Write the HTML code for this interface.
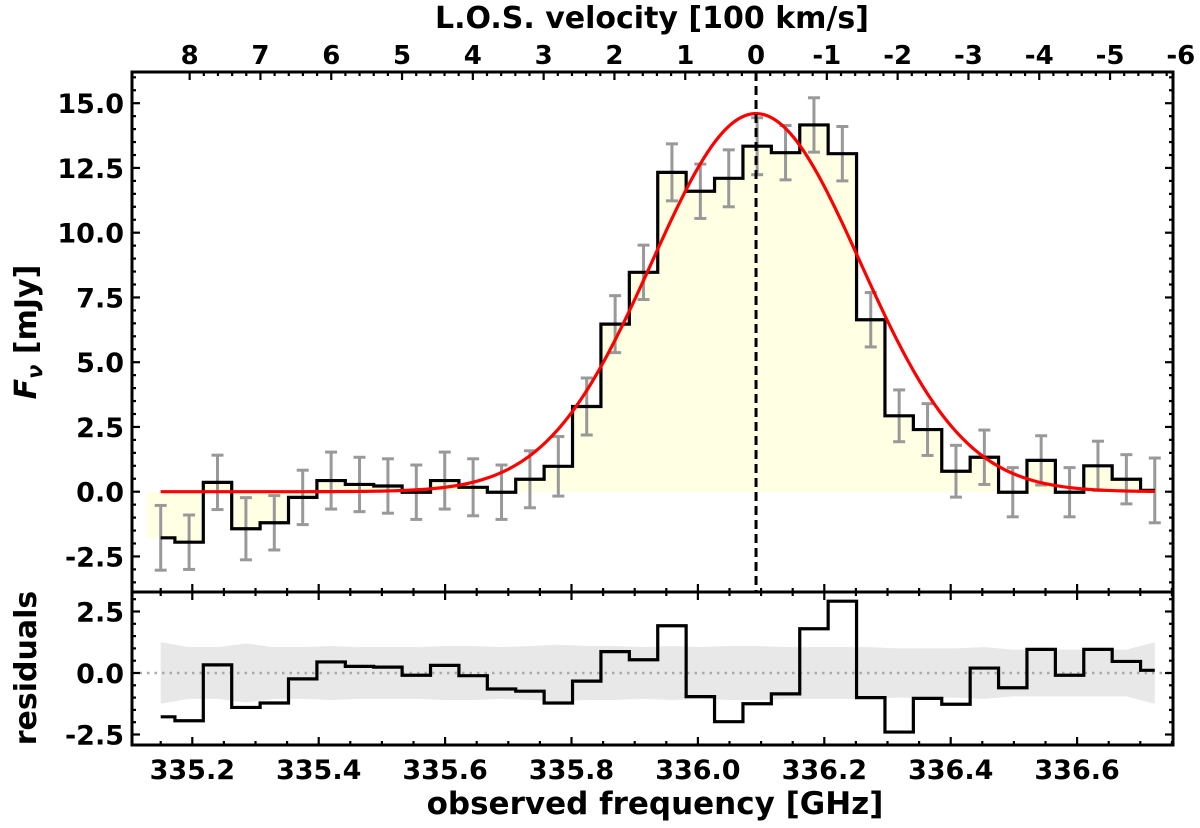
<!DOCTYPE html>
<html><head><meta charset="utf-8"><style>
body{margin:0;background:#fff;}
svg text{font-family:"DejaVu Sans","Liberation Sans",sans-serif;font-weight:bold;fill:#000;}
</style></head><body>
<svg id="chart" width="1200" height="823" xmlns="http://www.w3.org/2000/svg"></svg>
<script>
const flux = [-1.78,-1.95,0.36,-1.43,-1.2,-0.22,0.43,0.28,0.22,-0.02,0.43,0.17,-0.02,0.48,0.98,3.29,6.47,8.47,12.33,11.6,12.1,13.34,13.09,14.16,13.05,6.64,2.93,2.4,0.79,1.33,-0.02,1.21,-0.02,1.0,0.48,0.05];
const fluxErr = [1.25,1.05,1.05,1.2,1.05,1.05,1.1,1.05,1.05,1.05,1.1,1.1,1.05,1.1,1.15,1.1,1.1,1.05,1.1,1.05,1.1,1.1,1.05,1.05,1.05,1.05,1.0,1.0,1.0,1.05,0.95,0.95,0.95,0.95,0.95,1.25];
const resid = [-1.78,-1.94,0.33,-1.4,-1.22,-0.24,0.45,0.27,0.24,-0.09,0.31,-0.11,-0.65,-0.74,-1.22,-0.33,0.87,0.54,1.92,-0.96,-1.98,-1.25,-0.85,1.8,2.92,-1.0,-2.4,-1.03,-1.27,0.2,-0.6,0.96,-0.09,0.96,0.47,0.11];
const freqStart = 335.150, binWidth = 0.04494;
const gaussAmp = 14.6, gaussCenter = 336.092, gaussSigma = 0.165;
const xTicks = [335.2,335.4,335.6,335.8,336.0,336.2,336.4,336.6];
const yTicks = [-2.5,0,2.5,5,7.5,10,12.5,15];
const rTicks = [-2.5,0,2.5];
const vTicks = [8,7,6,5,4,3,2,1,0,-1,-2,-3,-4,-5,-6];

const svg = document.getElementById('chart');
const NS = 'http://www.w3.org/2000/svg';
const L=132, R=1173, T=72, MB=592, RB=745;
const X = f => 192.3 + (f-335.2)/0.2*126.4;
const Y = v => 491.7 - v*25.9;
const RY = v => 673 - v*24.6;
const V = v => X(gaussCenter) - v*70.8;
function mk(tag, attrs, parent){const e=document.createElementNS(NS,tag);for(const k in attrs)e.setAttribute(k,attrs[k]);(parent||svg).appendChild(e);return e;}
const centers = flux.map((_,i)=>freqStart+i*binWidth);

let fp = `M${X(centers[0]-binWidth/2)},${Y(0)}`;
flux.forEach((v,i)=>{fp+=` L${X(centers[i]-binWidth/2)},${Y(v)} L${X(centers[i]+binWidth/2)},${Y(v)}`;});
fp+=` L${X(centers[centers.length-1]+binWidth/2)},${Y(0)} Z`;
const fill = mk('path',{d:fp,fill:'#ffffe3',stroke:'none'});



let bp='';
fluxErr.forEach((e,i)=>{bp+=(i?' L':'M')+X(centers[i])+','+RY(e);});
for(let i=fluxErr.length-1;i>=0;i--)bp+=' L'+X(centers[i])+','+RY(-fluxErr[i]);
const band = mk('path',{d:bp+' Z',fill:'#e8e8e8'});


const zl = mk('line',{x1:L,x2:R,y1:RY(0),y2:RY(0),stroke:'#aaa','stroke-width':2.5,'stroke-dasharray':'2.5,5'});



flux.forEach((v,i)=>{
  const g = mk('g',{stroke:'#999','stroke-width':3});
  
  
  const x=X(centers[i]), y1=Y(v-fluxErr[i]), y2=Y(v+fluxErr[i]);
  mk('line',{x1:x,x2:x,y1:y1,y2:y2},g);
  mk('line',{x1:x-6,x2:x+6,y1:y1,y2:y1},g);
  mk('line',{x1:x-6,x2:x+6,y1:y2,y2:y2},g);
});

function steps(vals, yf){
  let p=`M${X(centers[0])},${yf(vals[0])}`;
  vals.forEach((v,i)=>{
    const xl = i===0?X(centers[0]):X(centers[i]-binWidth/2);
    const xr = i===vals.length-1?X(centers[i]):X(centers[i]+binWidth/2);
    p+=` L${xl},${yf(v)} L${xr},${yf(v)}`;
  });
  return p;
}
const hist = mk('path',{d:steps(flux,Y),fill:'none',stroke:'#000','stroke-width':3.2});


const rh = mk('path',{d:steps(resid,RY),fill:'none',stroke:'#000','stroke-width':3.2});



let gp='';
for(let k=0;k<=300;k++){const f=centers[0]+(centers[centers.length-1]-centers[0])*k/300;const v=gaussAmp*Math.exp(-0.5*((f-gaussCenter)/gaussSigma)**2);gp+=(k?' L':'M')+X(f)+','+Y(v);}
const gl = mk('path',{d:gp,fill:'none',stroke:'#f00','stroke-width':3.2});


const dl = mk('line',{x1:X(gaussCenter),x2:X(gaussCenter),y1:T,y2:MB,stroke:'#000','stroke-width':3,'stroke-dasharray':'9,5'});



const f1 = mk('rect',{x:L,y:T,width:R-L,height:MB-T,fill:'none',stroke:'#000','stroke-width':3});


const f2 = mk('rect',{x:L,y:MB,width:R-L,height:RB-MB,fill:'none',stroke:'#000','stroke-width':3});



const tk = mk('g',{stroke:'#000','stroke-width':2.2});


function tick(x1,y1,x2,y2){mk('line',{x1,y1,x2,y2},tk);}
for(let f=335.15;f<=336.76;f+=0.05){const x=X(f);const len=Math.abs(Math.round(f*5)-f*5)<0.01?8:4;
  tick(x,MB,x,MB-len);tick(x,MB,x,MB+len);tick(x,RB,x,RB-len);}
for(let v=-6;v<=8.01;v+=0.2){const x=V(v);if(x<L||x>R)continue;const len=Math.abs(Math.round(v)-v)<0.01?8:4;tick(x,T,x,T+len);}
for(let v=-3.5;v<=16.01;v+=0.5){const y=Y(v);if(y<T||y>MB)continue;const len=Math.abs(Math.round(v/2.5)*2.5-v)<0.01?8:4;tick(L,y,L+len,y);tick(R,y,R-len,y);}
for(let v=-2.5;v<=3.01;v+=0.5){const y=RY(v);const len=Math.abs(Math.round(v/2.5)*2.5-v)<0.01?8:4;tick(L,y,L+len,y);tick(R,y,R-len,y);}

function txt(s,x,y,anchor,size,name){const t=mk('text',{x,y,'text-anchor':anchor,'font-size':size});t.textContent=s;return t;}
xTicks.forEach(f=>txt(f.toFixed(1),X(f),779,'middle',27,'x-tick-label'));
yTicks.forEach(v=>txt(v.toFixed(1),124,Y(v)+10,'end',27,'y-tick-label'));
rTicks.forEach(v=>txt(v.toFixed(1),124,RY(v)+10,'end',27,'residual-tick-label'));
vTicks.forEach(v=>txt(String(v),V(v),64,'middle',26,'velocity-tick-label'));
txt('observed frequency [GHz]',655,814,'middle',31,'x-axis-title');
txt('L.O.S. velocity [100 km/s]',652,28,'middle',30,'top-axis-title');
const yl = mk('text',{x:0,y:0,'text-anchor':'middle','font-size':30,transform:'translate(36,332) rotate(-90)'});


yl.innerHTML='<tspan font-style="italic">F</tspan><tspan font-size="21" dy="6" font-style="italic">ν</tspan><tspan dy="-6"> [mJy]</tspan>';
const rl = mk('text',{x:0,y:0,'text-anchor':'middle','font-size':30,transform:'translate(36,668) rotate(-90)'});
rl.textContent='residuals';


</script>
</body></html>
